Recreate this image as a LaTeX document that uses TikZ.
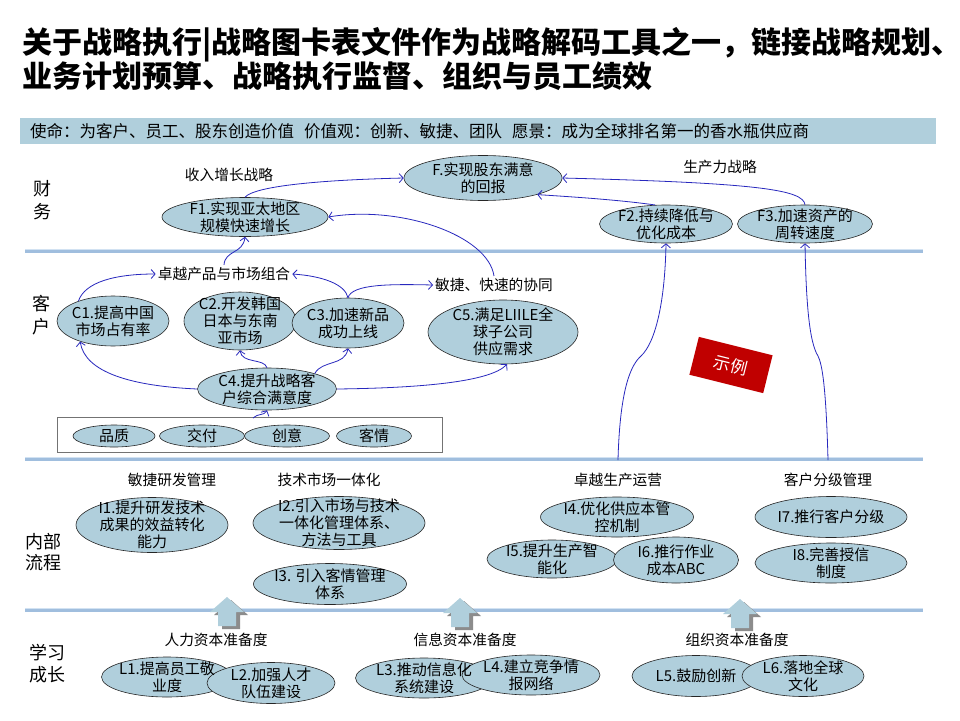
\documentclass[tikz,border=0pt]{standalone}
\usepackage{fontspec}
\setmainfont{Noto Sans CJK SC}
\usetikzlibrary{shapes.geometric,arrows.meta}
\definecolor{ellfill}{RGB}{176,207,220}
\definecolor{barfill}{RGB}{176,207,220}
\definecolor{arrblue}{RGB}{40,40,190}
\definecolor{sepblue}{RGB}{160,190,222}
\definecolor{seplight}{RGB}{210,226,242}
\definecolor{redbox}{RGB}{192,0,0}
\definecolor{shadowgray}{RGB}{140,140,140}
\newcommand\upblk[2]{%
  \begin{scope}[shift={(#1,#2)}]
    \fill[shadowgray,shift={(4,3)}] (0,0) -- (17,15) -- (9,15) -- (9,29) -- (-9,29) -- (-9,15) -- (-17,15) -- cycle;
    \fill[ellfill] (0,0) -- (17,15) -- (9,15) -- (9,29) -- (-9,29) -- (-9,15) -- (-17,15) -- cycle;
  \end{scope}}
\tikzset{
  ell/.style={ellipse, draw=black!85, fill=ellfill, line width=0.6pt, inner sep=0pt},
  etxt/.style={font=\fontsize{15}{16.8}\selectfont, align=center, inner sep=0pt},
  lbl/.style={font=\fontsize{14.7}{17}\selectfont, inner sep=2pt},
  sec/.style={font=\fontsize{18}{23}\selectfont, align=center, inner sep=0pt},
  conn/.style={draw=arrblue, line width=0.8pt, -{Straight Barb[length=4pt,width=9pt]}},
  sepline/.style={draw=sepblue, line width=4pt},
}
\begin{document}
\begin{tikzpicture}[x=1pt,y=-1pt]
\useasboundingbox (0,0) rectangle (960,720);
\fill[white] (0,0) rectangle (960,720);

% title
\node[anchor=west, font=\fontsize{30}{31}\bfseries\selectfont, inner sep=0pt] (t1) at (22,45) {关于战略执行|战略图卡表文件作为战略解码工具之一，链接战略规划、};
\node[anchor=west, font=\fontsize{30}{31}\bfseries\selectfont, inner sep=0pt] (t2) at (22,76) {业务计划预算、战略执行监督、组织与员工绩效};

% mission bar
\fill[barfill] (20,118) rectangle (936,144);
\node[anchor=west, font=\fontsize{16.5}{18}\selectfont, inner sep=0pt] (mission) at (30,131) {使命：为客户、员工、股东创造价值\hspace{0.6em}价值观：创新、敏捷、团队\hspace{0.6em}愿景：成为全球排名第一的香水瓶供应商};

% separators
\foreach \yy in {251,459,610} {
  \draw[sepline] (25,\yy) -- (923,\yy);
  \draw[seplight, line width=1pt] (25,\yy-1.2) -- (923,\yy-1.2);
}

% section labels
\node[sec] (sF) at (42,200) {财\\务};
\node[sec] (sC) at (41,315) {客\\户};
\node[sec, font=\fontsize{18}{21}\selectfont] (sI) at (43,552) {内部\\流程};
\node[sec, font=\fontsize{18}{22}\selectfont] (sL) at (47,664) {学习\\成长};

% ellipses
\node[ell, minimum width=158, minimum height=45] (F) at (483,178) {};
\node[ell, minimum width=166, minimum height=39] (F1) at (245,217) {};
\node[ell, minimum width=133, minimum height=38] (F2) at (666,224) {};
\node[ell, minimum width=135, minimum height=38] (F3) at (805,224) {};
\node[ell, minimum width=112, minimum height=50] (C1) at (113,321) {};
\node[ell, minimum width=112, minimum height=58] (C2) at (240,321) {};
\node[ell, minimum width=112, minimum height=50] (C3) at (348,323) {};
\node[ell, minimum width=150, minimum height=64] (C5) at (503,332) {};
\node[ell, minimum width=139, minimum height=42] (C4) at (267,389) {};
\node[draw=black!55, line width=0.6pt, minimum width=385, minimum height=35, inner sep=0pt] (box) at (249.5,434.5) {};
\node[ell, minimum width=82, minimum height=22] (q1) at (114,436) {};
\node[ell, minimum width=85, minimum height=22] (q2) at (202,436) {};
\node[ell, minimum width=85, minimum height=22] (q3) at (287,436) {};
\node[ell, minimum width=75, minimum height=22] (q4) at (374,436) {};
\node[ell, minimum width=152, minimum height=55] (I1) at (152,525) {};
\node[ell, minimum width=172, minimum height=53] (I2) at (339,523) {};
\node[ell, minimum width=153, minimum height=41] (I3) at (330,584) {};
\node[ell, minimum width=153, minimum height=40] (I4) at (617,517) {};
\node[ell, minimum width=130, minimum height=38] (I5) at (552,559) {};
\node[ell, minimum width=125, minimum height=46] (I6) at (676,560) {};
\node[ell, minimum width=152, minimum height=41] (I7) at (831,517) {};
\node[ell, minimum width=152, minimum height=40] (I8) at (831,563) {};
\node[ell, minimum width=131, minimum height=40] (L1) at (167,677) {};
\node[ell, minimum width=128, minimum height=41] (L2) at (271,683) {};
\node[ell, minimum width=137, minimum height=40] (L3) at (424,678) {};
\node[ell, minimum width=138, minimum height=40] (L4) at (531,675) {};
\node[ell, minimum width=128, minimum height=41] (L5) at (696,676) {};
\node[ell, minimum width=122, minimum height=41] (L6) at (803,676) {};

% ellipse texts
\node[etxt] (tF) at (F) {F.实现股东满意\\的回报};
\node[etxt] (tF1) at (F1) {F1.实现亚太地区\\规模快速增长};
\node[etxt] (tF2) at (F2) {F2.持续降低与\\优化成本};
\node[etxt] (tF3) at (F3) {F3.加速资产的\\周转速度};
\node[etxt] (tC1) at (C1) {C1.提高中国\\市场占有率};
\node[etxt] (tC2) at (C2) {C2.开发韩国\\日本与东南\\亚市场};
\node[etxt] (tC3) at (C3) {C3.加速新品\\成功上线};
\node[etxt] (tC5) at (C5) {C5.满足LIILE全\\球子公司\\供应需求};
\node[etxt] (tC4) at (C4) {C4.提升战略客\\户综合满意度};
\node[etxt] (tq1) at (q1) {品质};
\node[etxt] (tq2) at (q2) {交付};
\node[etxt] (tq3) at (q3) {创意};
\node[etxt] (tq4) at (q4) {客情};
\node[etxt] (tI1) at (I1) {I1.提升研发技术\\成果的效益转化\\能力};
\node[etxt] (tI2) at (I2) {I2.引入市场与技术\\一体化管理体系、\\方法与工具};
\node[etxt] (tI3) at (I3) {I3. 引入客情管理\\体系};
\node[etxt] (tI4) at (I4) {I4.优化供应本管\\控机制};
\node[etxt] (tI5) at (I5) {I5.提升生产智\\能化};
\node[etxt] (tI6) at (I6) {I6.推行作业\\成本ABC};
\node[etxt] (tI7) at (I7) {I7.推行客户分级};
\node[etxt] (tI8) at (I8) {I8.完善授信\\制度};
\node[etxt] (tL1) at (L1) {L1.提高员工敬\\业度};
\node[etxt] (tL2) at (L2) {L2.加强人才\\队伍建设};
\node[etxt] (tL3) at (L3) {L3.推动信息化\\系统建设};
\node[etxt] (tL4) at (L4) {L4.建立竞争情\\报网络};
\node[etxt] (tL5) at (L5) {L5.鼓励创新};
\node[etxt] (tL6) at (L6) {L6.落地全球\\文化};

% labels
\node[lbl] (lbIncome) at (229,175) {收入增长战略};
\node[lbl] (lbProd) at (720,167) {生产力战略};
\node[lbl] (lbExcel) at (224,274) {卓越产品与市场组合};
\node[lbl] (lbAgile) at (494,285) {敏捷、快速的协同};
\node[lbl] (lbRD) at (172,480) {敏捷研发管理};
\node[lbl] (lbTM) at (329,480) {技术市场一体化};
\node[lbl] (lbOps) at (618,480) {卓越生产运营};
\node[lbl] (lbCust) at (828,480) {客户分级管理};
\node[lbl] (lbHuman) at (216,640) {人力资本准备度};
\node[lbl] (lbInfo) at (465,640) {信息资本准备度};
\node[lbl] (lbOrg) at (737,640) {组织资本准备度};

% example stamp
\node[fill=redbox, rotate=-14, minimum width=76, minimum height=39, inner sep=0pt, text=white, font=\fontsize{17}{19}\selectfont] (ex) at (731,365) {示例};

% block arrows
\upblk{227}{597}
\upblk{460}{598}
\upblk{740}{599}

% connectors
\coordinate (p1) at (618,460);
\coordinate (p2) at (828,460);
\coordinate (bx) at (253,418);
\draw[conn] (F1.north) .. controls (255,186) and (320,180) .. (F.west);
\draw[conn] (F2.120) .. controls (620,200) and (575,197) .. (F.-17);
\draw[conn] (F3.north) .. controls (803,190) and (760,183) .. (F.east);
\draw[conn] (lbAgile.north) .. controls (488,235) and (400,205) .. (F1.east);
\draw[conn] (lbExcel.north) .. controls (225,250) and (243,254) .. (F1.south);
\draw[conn] (C1.150) .. controls (85,282) and (115,274) .. (lbExcel.west);
\draw[conn] (C3.north) .. controls (345,284) and (322,276) .. (lbExcel.east);
\draw[conn] (C3.north) .. controls (352,284) and (390,284) .. (lbAgile.west);
\draw[conn] (C4.west) .. controls (130,386) and (85,372) .. (C1.212);
\draw[conn] (C4.north) .. controls (264,358) and (242,364) .. (C2.south);
\draw[conn] (C4.18) .. controls (322,360) and (345,366) .. (C3.south);
\draw[conn] (C4.east) .. controls (420,388) and (490,382) .. (C5.-83);
\draw[conn] (bx) .. controls (258,413) and (264,416) .. (C4.south);
\draw[conn] (p1) .. controls (620,385) and (632,364) .. (641,356) .. controls (656,342) and (665,300) .. (F2.south);
\draw[conn] (p2) .. controls (826,385) and (822,364) .. (818,356) .. controls (809,342) and (806,300) .. (F3.south);
\end{tikzpicture}
\end{document}
